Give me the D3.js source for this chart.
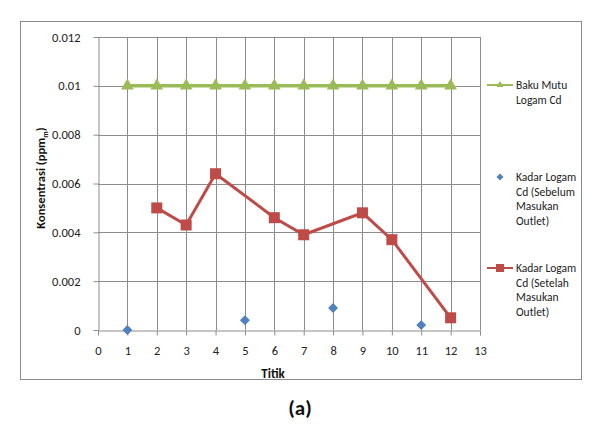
<!DOCTYPE html>
<html><head><meta charset="utf-8">
<script src="https://cdn.jsdelivr.net/npm/d3@7"></script>
<style>
body{margin:0;background:#fff;}
text{font-family:Carlito,Calibri,"Liberation Sans",Arial,sans-serif;}
</style></head>
<body><svg id="c" width="603" height="426"></svg>
<script>
const xTicks = [0,1,2,3,4,5,6,7,8,9,10,11,12,13];
const yTicks = [0,0.002,0.004,0.006,0.008,0.01,0.012];
const bakuX = [1,2,3,4,5,6,7,8,9,10,11,12];
const bakuY = [0.01,0.01,0.01,0.01,0.01,0.01,0.01,0.01,0.01,0.01,0.01,0.01];
const sebelumX = [1,5,8,11];
const sebelumY = [0,0.0004,0.0009,0.0002];
const setelahX = [2,3,4,6,7,9,10,12];
const setelahY = [0.005,0.0043,0.0064,0.0046,0.0039,0.0048,0.0037,0.0005];
const legendLabels = [["Baku Mutu","Logam Cd"],["Kadar Logam","Cd (Sebelum","Masukan","Outlet)"],["Kadar Logam","Cd (Setelah","Masukan","Outlet)"]];

const green="#9BBB59", blue="#4F81BD", red="#BE4B48", grid="#8c8c8c";
const svg=d3.select("#c");
svg.append("rect").attr("x",20.5).attr("y",21.5).attr("width",561).attr("height",358)
  .attr("fill","#fff").attr("stroke","#8a8a8a");

const x=d3.scaleLinear().domain([0,13]).range([98,480]);
const y=d3.scaleLinear().domain([0,0.012]).range([330,37]);

// gridlines
svg.append("g").selectAll("line").data(xTicks.slice(1)).join("line")
  .attr("x1",d=>Math.round(x(d))+0.5).attr("x2",d=>Math.round(x(d))+0.5)
  .attr("y1",y(0.012)).attr("y2",y(0)).attr("stroke",grid);
svg.append("g").selectAll("line").data(yTicks.slice(1)).join("line")
  .attr("y1",d=>Math.round(y(d))+0.5).attr("y2",d=>Math.round(y(d))+0.5)
  .attr("x1",x(0)).attr("x2",x(13)).attr("stroke",grid);

// axes
const xa=svg.append("g").attr("transform",`translate(0,${Math.round(y(0))+0.5})`)
  .call(d3.axisBottom(x).tickValues(xTicks).tickFormat(d3.format("d")).tickSize(5).tickSizeOuter(0).tickPadding(11));
const ya=svg.append("g").attr("transform",`translate(${Math.round(x(0))+0.5},0)`)
  .call(d3.axisLeft(y).tickValues(yTicks).tickFormat(d=>d===0?"0":String(+d.toFixed(3))).tickSize(5).tickSizeOuter(0).tickPadding(13));
[xa,ya].forEach(a=>{a.selectAll("path,line").attr("stroke",grid);
  a.selectAll("text").attr("font-size",12.5).attr("fill","#222").style("font-family","Carlito,Calibri,'Liberation Sans',sans-serif");});

// series
const line=d3.line().x(d=>x(d[0])).y(d=>y(d[1]));
const bak=bakuX.map((v,i)=>[v,bakuY[i]]);
svg.append("path").datum(bak).attr("d",line).attr("fill","none").attr("stroke",green).attr("stroke-width",3.5);
const tri=d3.symbol().type(d3.symbolTriangle).size(70);
svg.append("g").selectAll("path").data(bak).join("path").attr("d",tri)
  .attr("transform",d=>`translate(${x(d[0])},${y(d[1])})`).attr("fill",green);

const set=setelahX.map((v,i)=>[v,setelahY[i]]);
svg.append("path").datum(set).attr("d",line).attr("fill","none").attr("stroke",red).attr("stroke-width",3);
svg.append("g").selectAll("rect").data(set).join("rect")
  .attr("x",d=>x(d[0])-5.5).attr("y",d=>y(d[1])-5.5).attr("width",11).attr("height",11).attr("fill",red);

const seb=sebelumX.map((v,i)=>[v,sebelumY[i]]);
svg.append("g").selectAll("rect").data(seb).join("rect")
  .attr("x",-3.5).attr("y",-3.5).attr("width",7).attr("height",7)
  .attr("transform",d=>`translate(${x(d[0])},${y(d[1])}) rotate(45)`).attr("fill",blue);

// legend
const lg=svg.append("g");
const legY=[85,177,268];
lg.append("line").attr("x1",487).attr("x2",513).attr("y1",legY[0]).attr("y2",legY[0]).attr("stroke",green).attr("stroke-width",2);
lg.append("path").attr("d",d3.symbol().type(d3.symbolTriangle).size(22)).attr("transform",`translate(500,${legY[0]})`).attr("fill",green);
lg.append("rect").attr("x",-2.5).attr("y",-2.5).attr("width",5).attr("height",5).attr("transform",`translate(500,${legY[1]}) rotate(45)`).attr("fill",blue);
lg.append("line").attr("x1",487).attr("x2",513).attr("y1",legY[2]).attr("y2",legY[2]).attr("stroke",red).attr("stroke-width",2);
lg.append("rect").attr("x",496).attr("y",legY[2]-4).attr("width",8).attr("height",8).attr("fill",red);
legendLabels.forEach((lines,i)=>{
  lines.forEach((t,j)=>{
    lg.append("text").attr("x",516).attr("y",legY[i]+4+j*14.7).attr("font-size",11.5).attr("fill","#222").text(t);
  });
});

// titles
svg.append("text").attr("x",273).attr("y",378).attr("text-anchor","middle").attr("font-size",13).attr("font-weight","bold").attr("fill","#111").text("Titik");
const yt=svg.append("text").attr("transform","translate(45,178) rotate(-90)").attr("text-anchor","middle")
  .attr("font-size",12.5).attr("font-weight","bold").attr("fill","#111");
yt.append("tspan").text("Konsentrasi (ppm");
yt.append("tspan").attr("font-size",8).attr("dy",3).text("m");
yt.append("tspan").attr("dy",-3).text(")");
svg.append("text").attr("x",300).attr("y",415).attr("text-anchor","middle").attr("font-size",21).attr("font-weight","bold").attr("fill","#111").text("(a)");
</script></body></html>
